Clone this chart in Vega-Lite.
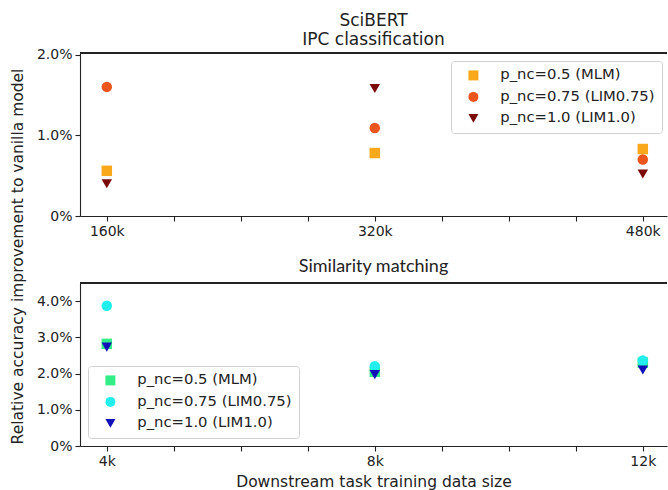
{
  "$schema": "https://vega.github.io/schema/vega-lite/v6.json",
  "padding": {"left": 10, "top": 12, "right": 0, "bottom": 0},
  "background": "white",
  "config": {
    "font": "DejaVu Sans",
    "view": {"stroke": null},
    "axis": {
      "labelFont": "DejaVu Sans", "labelFontSize": 14, "labelColor": "#222",
      "titleFont": "DejaVu Sans", "titleFontSize": 15.5, "titleFontWeight": "normal", "titleColor": "#222",
      "tickColor": "#222", "tickSize": 5, "domainColor": "#222", "domainWidth": 1.1, "tickWidth": 1.1,
      "grid": false, "labelPadding": 3
    },
    "title": {"font": "DejaVu Sans", "fontWeight": "normal", "color": "#222"}
  },
  "bounds": "flush",
  "spacing": 67,
  "resolve": {"scale": {"color": "independent", "shape": "independent", "x": "independent", "y": "independent"}, "legend": {"color": "independent", "shape": "independent"}},
  "vconcat": [
    {
      "width": 587,
      "height": 163,
      "title": {"text": ["SciBERT", "IPC classification"], "fontSize": 17, "lineHeight": 18.5, "frame": "group", "anchor": "middle", "offset": -1},
      "data": {"values": [
        {"size_k": 160, "improvement": 0.56, "series": "p_nc=0.5 (MLM)"},
        {"size_k": 320, "improvement": 0.78, "series": "p_nc=0.5 (MLM)"},
        {"size_k": 480, "improvement": 0.83, "series": "p_nc=0.5 (MLM)"},
        {"size_k": 160, "improvement": 1.60, "series": "p_nc=0.75 (LIM0.75)"},
        {"size_k": 320, "improvement": 1.09, "series": "p_nc=0.75 (LIM0.75)"},
        {"size_k": 480, "improvement": 0.70, "series": "p_nc=0.75 (LIM0.75)"},
        {"size_k": 160, "improvement": 0.40, "series": "p_nc=1.0 (LIM1.0)"},
        {"size_k": 320, "improvement": 1.58, "series": "p_nc=1.0 (LIM1.0)"},
        {"size_k": 480, "improvement": 0.52, "series": "p_nc=1.0 (LIM1.0)"}
      ]},
      "layer": [
        {"mark": {"type": "rule", "color": "#222", "strokeWidth": 1.1}, "encoding": {"y": {"datum": 2.02, "type": "quantitative"}}},
        {
          "mark": {"type": "point", "filled": true, "opacity": 1, "size": 110},
          "encoding": {
            "x": {"field": "size_k", "type": "quantitative", "scale": {"domain": [144, 494.45], "nice": false, "zero": false},
              "axis": {"title": null, "values": [160, 200, 240, 280, 320, 360, 400, 440, 480], "labelExpr": "datum.value % 160 == 0 ? datum.value + 'k' : ''", "labelFlush": false, "labelOverlap": false}},
            "y": {"field": "improvement", "type": "quantitative", "scale": {"domain": [0, 2.02], "nice": false},
              "axis": {"title": "Relative accuracy improvement to vanilla model", "values": [0, 1, 2], "labelExpr": "datum.value == 0 ? '0%' : format(datum.value, '.1f') + '%'", "titlePadding": 11, "titleY": 203}},
            "color": {"field": "series", "type": "nominal",
              "scale": {"domain": ["p_nc=0.5 (MLM)", "p_nc=0.75 (LIM0.75)", "p_nc=1.0 (LIM1.0)"], "range": ["#f9a81c", "#ec561c", "#7a0a0a"]},
              "legend": {"title": null, "orient": "none", "legendX": 371, "legendY": 8, "labelFont": "DejaVu Sans", "labelFontSize": 14.8, "labelColor": "#222", "labelLimit": 400, "symbolSize": 100, "symbolStrokeWidth": 0, "symbolOffset": 8, "labelOffset": 19.5, "rowPadding": 5.5, "padding": 7, "fillColor": "rgba(255,255,255,0.85)", "strokeColor": "#d0d0d0", "cornerRadius": 3}},
            "shape": {"field": "series", "type": "nominal",
              "scale": {"domain": ["p_nc=0.5 (MLM)", "p_nc=0.75 (LIM0.75)", "p_nc=1.0 (LIM1.0)"], "range": ["square", "circle", "triangle-down"]},
              "legend": {"title": null, "orient": "none", "legendX": 371, "legendY": 8, "labelFont": "DejaVu Sans", "labelFontSize": 14.8, "labelColor": "#222", "labelLimit": 400, "symbolSize": 100, "symbolStrokeWidth": 0, "symbolOffset": 8, "labelOffset": 19.5, "rowPadding": 5.5, "padding": 7, "fillColor": "rgba(255,255,255,0.85)", "strokeColor": "#d0d0d0", "cornerRadius": 3}}
          }
        }
      ]
    },
    {
      "width": 587,
      "height": 163,
      "title": {"text": "Similarity matching", "font": "Lato", "fontSize": 18, "frame": "group", "anchor": "middle", "offset": 6},
      "data": {"values": [
        {"size_k": 4, "improvement": 2.82, "series": "p_nc=0.5 (MLM)"},
        {"size_k": 8, "improvement": 2.05, "series": "p_nc=0.5 (MLM)"},
        {"size_k": 12, "improvement": 2.30, "series": "p_nc=0.5 (MLM)"},
        {"size_k": 4, "improvement": 3.87, "series": "p_nc=0.75 (LIM0.75)"},
        {"size_k": 8, "improvement": 2.20, "series": "p_nc=0.75 (LIM0.75)"},
        {"size_k": 12, "improvement": 2.36, "series": "p_nc=0.75 (LIM0.75)"},
        {"size_k": 4, "improvement": 2.73, "series": "p_nc=1.0 (LIM1.0)"},
        {"size_k": 8, "improvement": 1.97, "series": "p_nc=1.0 (LIM1.0)"},
        {"size_k": 12, "improvement": 2.10, "series": "p_nc=1.0 (LIM1.0)"}
      ]},
      "layer": [
        {"mark": {"type": "rule", "color": "#222", "strokeWidth": 1.1}, "encoding": {"y": {"datum": 4.5, "type": "quantitative"}}},
        {
          "mark": {"type": "point", "filled": true, "opacity": 1, "size": 110},
          "encoding": {
            "x": {"field": "size_k", "type": "quantitative", "scale": {"domain": [3.6, 12.361], "nice": false, "zero": false},
              "axis": {"title": "Downstream task training data size", "titlePadding": 6, "values": [4, 5, 6, 7, 8, 9, 10, 11, 12], "labelExpr": "datum.value % 4 == 0 ? datum.value + 'k' : ''", "labelFlush": false, "labelOverlap": false}},
            "y": {"field": "improvement", "type": "quantitative", "scale": {"domain": [0, 4.5], "nice": false},
              "axis": {"title": null, "values": [0, 1, 2, 3, 4], "labelExpr": "datum.value == 0 ? '0%' : format(datum.value, '.1f') + '%'"}},
            "color": {"field": "series", "type": "nominal",
              "scale": {"domain": ["p_nc=0.5 (MLM)", "p_nc=0.75 (LIM0.75)", "p_nc=1.0 (LIM1.0)"], "range": ["#33ee88", "#22eeee", "#1010b8"]},
              "legend": {"title": null, "orient": "none", "legendX": 8, "legendY": 83, "labelFont": "DejaVu Sans", "labelFontSize": 14.8, "labelColor": "#222", "labelLimit": 400, "symbolSize": 100, "symbolStrokeWidth": 0, "symbolOffset": 8, "labelOffset": 19.5, "rowPadding": 5.5, "padding": 7, "fillColor": "rgba(255,255,255,0.85)", "strokeColor": "#d0d0d0", "cornerRadius": 3}},
            "shape": {"field": "series", "type": "nominal",
              "scale": {"domain": ["p_nc=0.5 (MLM)", "p_nc=0.75 (LIM0.75)", "p_nc=1.0 (LIM1.0)"], "range": ["square", "circle", "triangle-down"]},
              "legend": {"title": null, "orient": "none", "legendX": 8, "legendY": 83, "labelFont": "DejaVu Sans", "labelFontSize": 14.8, "labelColor": "#222", "labelLimit": 400, "symbolSize": 100, "symbolStrokeWidth": 0, "symbolOffset": 8, "labelOffset": 19.5, "rowPadding": 5.5, "padding": 7, "fillColor": "rgba(255,255,255,0.85)", "strokeColor": "#d0d0d0", "cornerRadius": 3}}
          }
        }
      ]
    }
  ]
}
